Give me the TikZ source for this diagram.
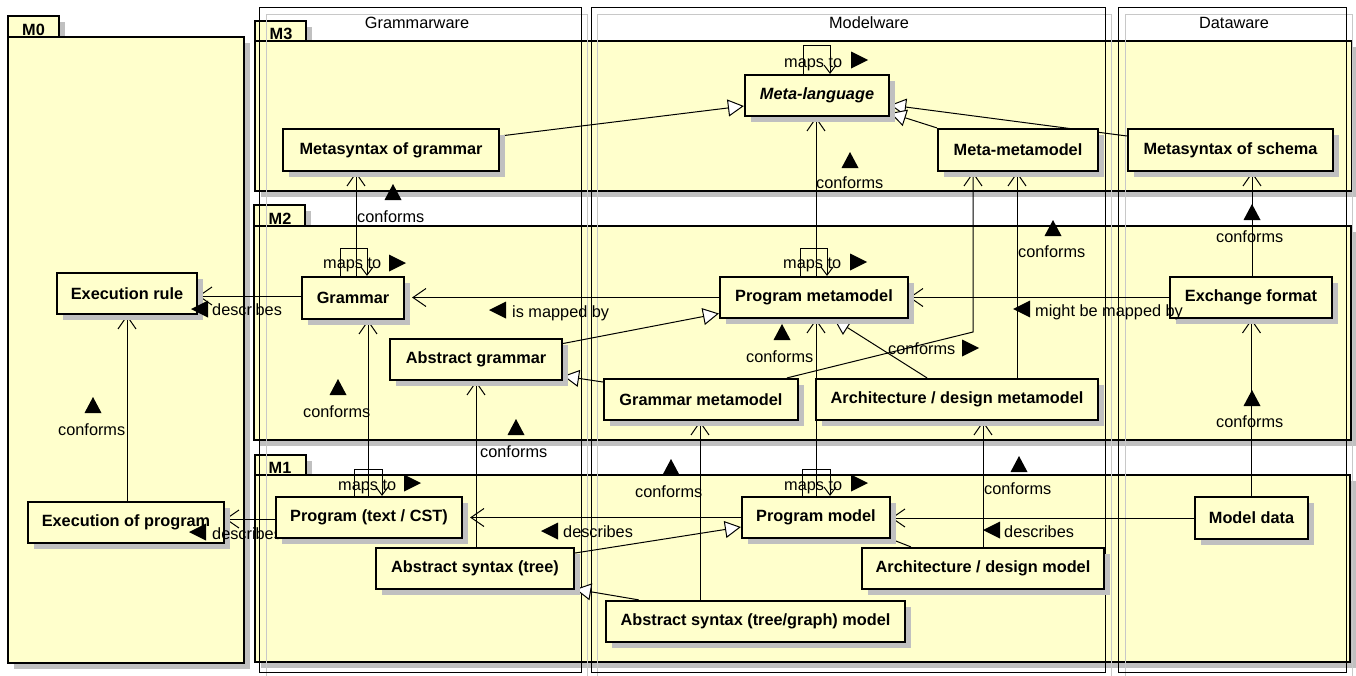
\documentclass[tikz,border=0pt]{standalone}
\usepackage{fontspec}
\setmainfont{Liberation Sans}
\usetikzlibrary{arrows.meta,shadows,calc}
\definecolor{yel}{RGB}{255,255,204}
\definecolor{shd}{RGB}{192,192,192}
\definecolor{colgray}{RGB}{200,200,200}
\pgfdeclarelayer{bg}
\pgfdeclarelayer{edges}
\pgfsetlayers{bg,edges,main}
\begin{document}
\begin{tikzpicture}[x=1pt,y=-1pt,
  cls/.style={draw, line width=2.2pt, fill=yel, font=\bfseries\fontsize{16.3}{19}\selectfont, inner sep=0pt,
    general shadow={fill=shd, shadow xshift=6pt, shadow yshift=-6pt}},
  pkgst/.style={fill=yel, draw, line width=2pt},
  tabl/.style={font=\bfseries\fontsize{16.3}{19}\selectfont, inner sep=0pt},
  coltitle/.style={font=\fontsize{16.3}{19}\selectfont, inner sep=0pt, anchor=base},
  lbl/.style={font=\fontsize{16.3}{19}\selectfont, inner sep=0pt, anchor=base west},
  dep/.style={line width=1pt, -{Straight Barb[length=13pt,width=18pt]}},
  loopst/.style={line width=1pt, -{Straight Barb[length=8pt,width=12pt]}},
  gen/.style={line width=1pt, -{Triangle[open, fill=white, length=16pt, width=17pt]}},
  pics/tu/.style={code={\fill (-8.5,8) -- (8.5,8) -- (0,-8) -- cycle;}},
  pics/tr/.style={code={\fill (-8,-8.5) -- (-8,8.5) -- (9,0) -- cycle;}},
  pics/tl/.style={code={\fill (8,-8.5) -- (8,8.5) -- (-9,0) -- cycle;}}
]
\useasboundingbox (0,0) rectangle (1356,675);

% ---------- nodes ----------
\node[cls, minimum width=216pt, minimum height=42pt] (msg) at (391,150) {Metasyntax of grammar};
\node[cls, minimum width=144pt, minimum height=41pt, font=\bfseries\itshape\fontsize{16.3}{19}\selectfont] (ml) at (817,95.5) {Meta-language};
\node[cls, minimum width=160pt, minimum height=42pt] (mmm) at (1018,150) {Meta-metamodel};
\node[cls, minimum width=205pt, minimum height=42pt] (mss) at (1230.5,150) {Metasyntax of schema};
\node[cls, minimum width=140pt, minimum height=41pt] (er) at (127,293.5) {Execution rule};
\node[cls, minimum width=102pt, minimum height=42pt] (gr) at (353,298) {Grammar};
\node[cls, minimum width=188pt, minimum height=41pt] (pmm) at (814,297.5) {Program metamodel};
\node[cls, minimum width=162pt, minimum height=41pt] (ef) at (1251,297.5) {Exchange format};
\node[cls, minimum width=172pt, minimum height=41pt] (ag) at (476,359.5) {Abstract grammar};
\node[cls, minimum width=194pt, minimum height=41pt] (gmm) at (701,399.5) {Grammar metamodel};
\node[cls, minimum width=282pt, minimum height=41pt] (admm) at (957,399.5) {Architecture / design metamodel};
\node[cls, minimum width=196pt, minimum height=41pt] (ep) at (126,522.5) {Execution of program};
% label partly hidden by the Program node, drawn over Execution of program
\node[lbl] (lb18) at (212,539) {describes}; \pic at (198,532) {tl};
\node[cls, minimum width=186pt, minimum height=41pt] (prg) at (369,517.5) {Program (text / CST)};
\node[cls, minimum width=198pt, minimum height=41pt] (ast) at (475,568.5) {Abstract syntax (tree)};
\node[cls, minimum width=148pt, minimum height=41pt] (pm) at (816,517.5) {Program model};
\node[cls, minimum width=242pt, minimum height=41pt] (adm) at (983,568.5) {Architecture / design model};
\node[cls, minimum width=299pt, minimum height=41pt] (astm) at (755.5,621.5) {Abstract syntax (tree/graph) model};
\node[cls, minimum width=113pt, minimum height=42pt] (md) at (1251.5,518) {Model data};

% ---------- packages and columns ----------
\begin{pgfonlayer}{bg}
  % M0
  \fill[shd] (14,22) rectangle (65,43);
  \fill[shd] (14,43) rectangle (250,669);
  \filldraw[pkgst] (8,16) rectangle (59,37);
  \filldraw[pkgst] (8,37) rectangle (244,663);
  \node[tabl] (t0) at (33.5,30) {M0};
  % M3
  \fill[shd] (261,27) rectangle (312,41);
  \fill[shd] (261,47) rectangle (1358,197);
  \filldraw[pkgst] (255,21) rectangle (306,41);
  \filldraw[pkgst] (255,41) rectangle (1352,191);
  \node[tabl] (t3) at (281,33.5) {M3};
  % M2
  \fill[shd] (260,211) rectangle (311,226);
  \fill[shd] (260,232) rectangle (1357,446);
  \filldraw[pkgst] (254,205) rectangle (305,226);
  \filldraw[pkgst] (254,226) rectangle (1351,440);
  \node[tabl] (t2) at (280,218.5) {M2};
  % M1
  \fill[shd] (261,461) rectangle (312,475);
  \fill[shd] (261,481) rectangle (1356,668);
  \filldraw[pkgst] (255,455) rectangle (306,475);
  \filldraw[pkgst] (255,475) rectangle (1350,662);
  \node[tabl] (t1) at (280,468) {M1};
  % columns
  \draw[colgray, line width=1pt] (266,14) rectangle (587,680);
  \draw[line width=1pt] (259,7) rectangle (581,672);
  \draw[colgray, line width=1pt] (597,14) rectangle (1111,680);
  \draw[line width=1pt] (591,7) rectangle (1105,672);
  \draw[colgray, line width=1pt] (1125,14) rectangle (1352,680);
  \draw[line width=1pt] (1118,7) rectangle (1346,672);
  \node[coltitle] (c1) at (417,28) {Grammarware};
  \node[coltitle] (c2) at (869,28) {Modelware};
  \node[coltitle] (c3) at (1234,28) {Dataware};
\end{pgfonlayer}

% ---------- connectors ----------
\begin{pgfonlayer}{edges}
  % M3
  \draw[gen] ([yshift=14pt]msg.east) -- ([yshift=-10.5pt]ml.west);
  \draw[gen] ([yshift=14pt]mss.west) -- ([yshift=-9.5pt]ml.east);
  \draw[gen] (mmm.north west) -- ([yshift=-17.5pt]ml.east);
  \draw[loopst] ([xshift=-14pt]ml.north) -- ++(0,-28) -- ++(27,0) -- ([xshift=13pt]ml.north);
  \draw[dep] ([xshift=-1pt]ml.south |- pmm.north) -- ([xshift=-1pt]ml.south);
  % M2
  \draw[dep] ([xshift=3pt]gr.north) -- ([xshift=3pt]gr.north |- msg.south);
  \draw[loopst] ([xshift=-13pt]gr.north) -- ++(0,-27) -- ++(27,0) -- ([xshift=14pt]gr.north);
  \draw[dep] ([yshift=2pt]gr.west) -- ([yshift=2pt]gr.west -| er.east);
  \draw[dep] (pmm.west) -- ([xshift=7pt]pmm.west -| gr.east);
  \draw[loopst] ([xshift=-14pt]pmm.north) -- ++(0,-27) -- ++(27,0) -- ([xshift=13pt]pmm.north);
  \draw[dep] (ef.west) -- (ef.west -| pmm.east);
  \draw[dep] ([xshift=1pt]ef.north) -- ([xshift=1pt]ef.north |- mss.south);
  \draw[dep] (md.north) -- (md.north |- ef.south);
  \draw[gen] ([yshift=16pt]ag.east) -- ([yshift=-16pt]pmm.west);
  \draw[gen] ([yshift=17.5pt]gmm.west) -- ([yshift=-16.5pt]ag.east);
  \coordinate (bend) at (973,332);
  \draw[dep] ([xshift=86pt]gmm.north) -- (bend) -- (bend |- mmm.south);
  \draw[dep] ([xshift=-1pt]mmm.south |- admm.north) -- ([xshift=-1pt]mmm.south);
  \draw[gen] ([xshift=-30pt]admm.north) -- ([xshift=20pt]pmm.south);
  \draw[dep] (pm.north) -- (pm.north |- pmm.south);
  \draw[dep] ([xshift=-1pt]gmm.south |- astm.north) -- ([xshift=-1pt]gmm.south);
  \draw[dep] (adm.north) -- (adm.north |- admm.south);
  \draw[dep] ([xshift=1pt]ast.north) -- ([xshift=1pt]ast.north |- ag.south);
  \draw[dep] ([xshift=-1pt]prg.north) -- ([xshift=-1pt]prg.north |- gr.south);
  \draw[dep] ([xshift=1pt]ep.north) -- ([xshift=1pt]ep.north |- er.south);
  % M1
  \draw[loopst] ([xshift=-15pt]prg.north) -- ++(0,-26) -- ++(28,0) -- ([xshift=13pt]prg.north);
  \draw[loopst] ([xshift=-14pt]pm.north) -- ++(0,-26) -- ++(28,0) -- ([xshift=14pt]pm.north);
  \draw[dep] ([yshift=-1.5pt]prg.west) -- ([yshift=-1.5pt]prg.west -| ep.east);
  \draw[dep] (pm.west) -- ([xshift=7pt]pm.west -| prg.east);
  \draw[dep] (md.west) -- (md.west -| pm.east);
  \draw[gen] ([yshift=15.5pt]ast.east) -- ([yshift=-9.5pt]pm.west);
  \draw[gen] ([xshift=34pt]astm.north west) -- ([yshift=1pt]ast.south east);
  \draw[line width=1pt] ([xshift=50pt]adm.north west) -- (pm.south east);
\end{pgfonlayer}

% ---------- labels ----------
\node[lbl] (lb1) at (784,67) {maps to}; \pic at (859,60) {tr};
\node[lbl] (lb2) at (816,188) {conforms}; \pic at (850,160) {tu};
\node[lbl] (lb3) at (357,222) {conforms}; \pic at (393,192) {tu};
\node[lbl] (lb4) at (323,268) {maps to}; \pic at (397,263) {tr};
\node[lbl] (lb5) at (212,315) {describes}; \pic at (200,309) {tl};
\node[lbl] (lb6) at (58,435) {conforms}; \pic at (93,405) {tu};
\node[lbl] (lb7) at (303,417) {conforms}; \pic at (338,387) {tu};
\node[lbl] (lb8) at (512,317) {is mapped by}; \pic at (498,310) {tl};
\node[lbl] (lb9) at (783,268) {maps to}; \pic at (858,262) {tr};
\node[lbl] (lb10) at (746,362) {conforms}; \pic at (782,332) {tu};
\node[lbl] (lb11) at (888,354) {conforms}; \pic at (970,348) {tr};
\node[lbl] (lb12) at (1018,257) {conforms}; \pic at (1053,228) {tu};
\node[lbl] (lb13) at (1035,316) {might be mapped by}; \pic at (1022,309) {tl};
\node[lbl] (lb14) at (1216,242) {conforms}; \pic at (1252,212) {tu};
\node[lbl] (lb15) at (1216,427) {conforms}; \pic at (1252,398) {tu};
\node[lbl] (lb16) at (480,457) {conforms}; \pic at (516,427) {tu};
\node[lbl] (lb17) at (338,490) {maps to}; \pic at (412,483) {tr};
\node[lbl] (lb19) at (635,497) {conforms}; \pic at (671,467) {tu};
\node[lbl] (lb20) at (563,537) {describes}; \pic at (550,531) {tl};
\node[lbl] (lb21) at (784,490) {maps to}; \pic at (859,483) {tr};
\node[lbl] (lb22) at (984,494) {conforms}; \pic at (1019,464) {tu};
\node[lbl] (lb23) at (1004,537) {describes}; \pic at (992,530) {tl};
\end{tikzpicture}
\end{document}
